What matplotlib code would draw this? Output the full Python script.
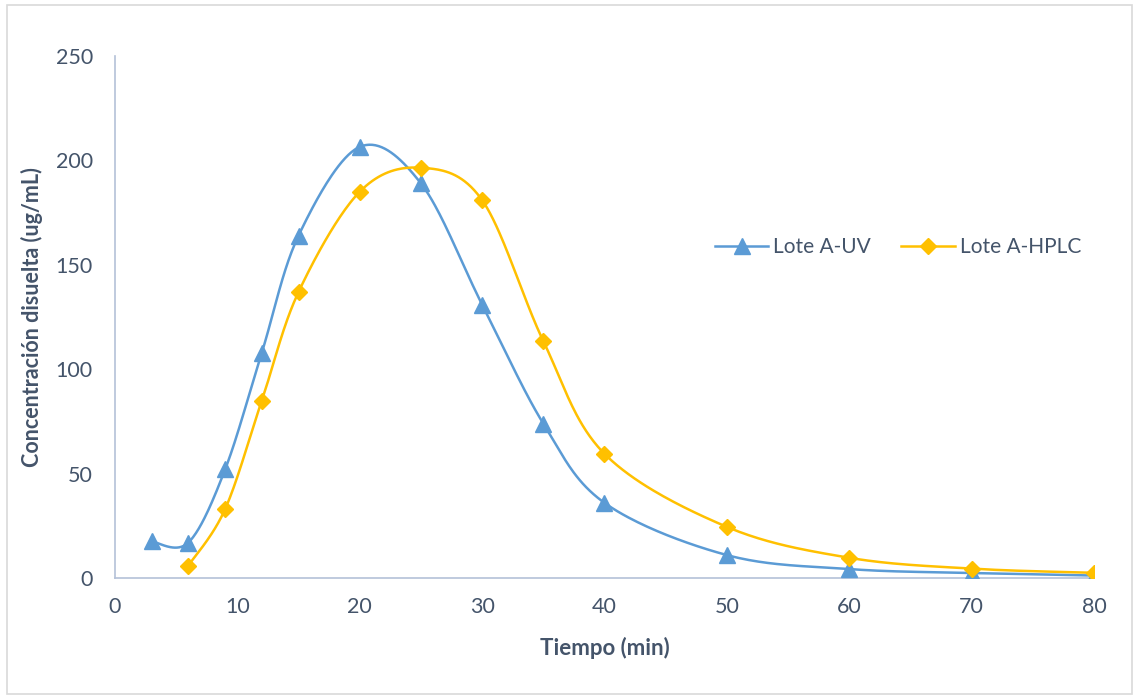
import numpy as np
import matplotlib.pyplot as plt
from matplotlib.patches import Rectangle

# datos
tiempo_uv = [3, 6, 9, 12, 15, 20, 25, 30, 35, 40, 50, 60, 70, 80]
conc_uv = [17.5, 17, 52, 108, 164, 206.5, 189, 131, 74, 36, 11, 4.3, 2.4, 1.2]
tiempo_hplc = [6, 9, 12, 15, 20, 25, 30, 35, 40, 50, 60, 70, 80]
conc_hplc = [6, 33, 85, 137, 185, 196.5, 181, 113.5, 59.5, 24.5, 9.7, 4.5, 2.5]

azul = "#5B9BD5"
amarillo = "#FFC000"
texto = "#44546A"


def suavizar(x, y, n=40):
    # curva tipo Excel (bezier con puntos de control catmull-rom)
    p = np.column_stack([x, y]).astype(float)
    p_ext = np.vstack([p[0], p, p[-1]])
    out = []
    t = np.linspace(0, 1, n)[:, None]
    for i in range(len(p) - 1):
        p0, p1, p2, p3 = p_ext[i], p_ext[i + 1], p_ext[i + 2], p_ext[i + 3]
        c1 = p1 + (p2 - p0) / 6
        c2 = p2 - (p3 - p1) / 6
        seg = ((1 - t) ** 3) * p1 + 3 * ((1 - t) ** 2) * t * c1 + 3 * (1 - t) * t ** 2 * c2 + t ** 3 * p2
        out.append(seg)
    out = np.vstack(out)
    return out[:, 0], out[:, 1]


plt.rcParams['font.family'] = ['Lato', 'DejaVu Sans']

fig = plt.figure(figsize=(11.34, 6.96), dpi=100)
ax = fig.add_axes([0.1014, 0.1695, 0.8633, 0.75])

xs, ys = suavizar(tiempo_uv, conc_uv)
ax.plot(xs, ys, color=azul, lw=1.8, zorder=2)
ax.plot(tiempo_uv, conc_uv, ls="none", marker="^", ms=11, color=azul, zorder=3)
xs, ys = suavizar(tiempo_hplc, conc_hplc)
ax.plot(xs, ys, color=amarillo, lw=1.8, zorder=2)
ax.plot(tiempo_hplc, conc_hplc, ls="none", marker="D", ms=8.5, color=amarillo, zorder=3)

# entradas de leyenda
ax.plot([], [], color=azul, lw=1.8, marker="^", ms=11, label="Lote A-UV")
ax.plot([], [], color=amarillo, lw=1.8, marker="D", ms=8.5, label="Lote A-HPLC")

ax.set_xlim(0, 80)
ax.set_ylim(0, 250)
ax.set_xticks(range(0, 81, 10))
ax.set_yticks(range(0, 251, 50))
ax.tick_params(length=0, labelsize=15.5, colors=texto)
ax.tick_params(axis="y", pad=16)
ax.tick_params(axis="x", pad=14)
for s in ["top", "right"]:
    ax.spines[s].set_visible(False)
for s in ["left", "bottom"]:
    ax.spines[s].set_color("#B4C1D8")
    ax.spines[s].set_linewidth(1.2)

ax.set_xlabel("Tiempo (min)", fontsize=16, fontweight="bold", color=texto)
ax.set_ylabel("Concentración disuelta (ug/mL)", fontsize=15.5, fontweight="bold", color=texto)
ax.xaxis.set_label_coords(0.5, -0.113)
ax.yaxis.set_label_coords(-0.0735, 0.5)

ax.legend(loc="center left", bbox_to_anchor=(0.613, 0.634), ncol=2, frameon=False,
          fontsize=15, labelcolor=texto, handlelength=2.55, columnspacing=1.45,
          handletextpad=0.25, borderpad=0, borderaxespad=0)

fig.patches.append(Rectangle((0.006, 0.003), 0.992, 0.99, transform=fig.transFigure,
                             fill=False, edgecolor="#D9D9D9", lw=1.2))

fig.savefig("out.png", dpi=100)
